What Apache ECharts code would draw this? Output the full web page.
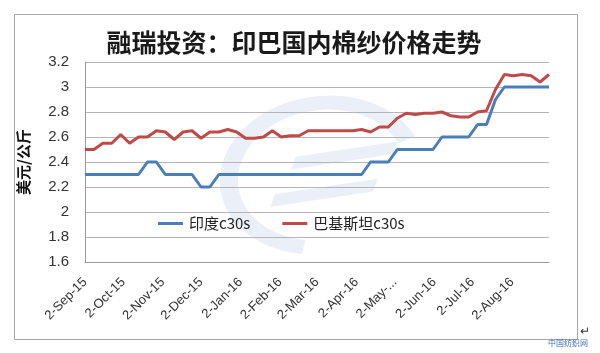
<!DOCTYPE html>
<html>
<head>
<meta charset="utf-8">
<title>融瑞投资：印巴国内棉纱价格走势</title>
<style>
  html, body { margin: 0; padding: 0; background: #fff; }
  #main { width: 600px; height: 353px; }
</style>
</head>
<body>
<div id="main"></div>
<script type="text/javascript" src="https://cdn.jsdelivr.net/npm/echarts@6/dist/echarts.min.js"></script>
<script type="text/javascript">
// weekly observations
var weeks = [
  '2015-09-02','2015-09-09','2015-09-16','2015-09-23','2015-09-30',
  '2015-10-07','2015-10-14','2015-10-21','2015-10-28',
  '2015-11-04','2015-11-11','2015-11-18','2015-11-25',
  '2015-12-02','2015-12-09','2015-12-16','2015-12-23','2015-12-30',
  '2016-01-06','2016-01-13','2016-01-20','2016-01-27',
  '2016-02-03','2016-02-10','2016-02-17','2016-02-24',
  '2016-03-02','2016-03-09','2016-03-16','2016-03-23','2016-03-30',
  '2016-04-06','2016-04-13','2016-04-20','2016-04-27',
  '2016-05-04','2016-05-11','2016-05-18','2016-05-25',
  '2016-06-01','2016-06-08','2016-06-15','2016-06-22','2016-06-29',
  '2016-07-06','2016-07-13','2016-07-20','2016-07-27',
  '2016-08-03','2016-08-10','2016-08-17','2016-08-24','2016-08-31'
];
var india = [
  2.3, 2.3, 2.3, 2.3, 2.3, 2.3, 2.3, 2.4, 2.4,
  2.3, 2.3, 2.3, 2.3, 2.2, 2.2, 2.3, 2.3, 2.3,
  2.3, 2.3, 2.3, 2.3, 2.3, 2.3, 2.3, 2.3,
  2.3, 2.3, 2.3, 2.3, 2.3, 2.3, 2.4, 2.4, 2.4,
  2.5, 2.5, 2.5, 2.5, 2.5, 2.6, 2.6, 2.6, 2.6,
  2.7, 2.7, 2.9, 3.0, 3.0, 3.0, 3.0, 3.0, 3.0
];
var pakistan = [
  2.5, 2.5, 2.55, 2.55, 2.62, 2.55, 2.6, 2.6, 2.65,
  2.64, 2.58, 2.64, 2.65, 2.59, 2.64, 2.64, 2.66, 2.64,
  2.59, 2.59, 2.6, 2.65, 2.6, 2.61, 2.61, 2.65,
  2.65, 2.65, 2.65, 2.65, 2.65, 2.66, 2.64, 2.68, 2.68,
  2.75, 2.79, 2.78, 2.79, 2.79, 2.8, 2.77, 2.76, 2.76,
  2.8, 2.81, 2.98, 3.1, 3.09, 3.1, 3.09, 3.04, 3.1
];
var tickDates = [
  '2015-09-02','2015-10-02','2015-11-02','2015-12-02','2016-01-02','2016-02-02',
  '2016-03-02','2016-04-02','2016-05-02','2016-06-02','2016-07-02','2016-08-02'
];
var tickLabels = [
  '2-Sep-15','2-Oct-15','2-Nov-15','2-Dec-15','2-Jan-16','2-Feb-16',
  '2-Mar-16','2-Apr-16','2-May-...','2-Jun-16','2-Jul-16','2-Aug-16'
];

// x is counted in days from the first observation
function dayOf(s) {
  var p = s.split('-');
  var t = Date.UTC(+p[0], +p[1] - 1, +p[2]);
  var p0 = weeks[0].split('-');
  var t0 = Date.UTC(+p0[0], +p0[1] - 1, +p0[2]);
  return Math.round((t - t0) / 86400000);
}
var tickDays = tickDates.map(dayOf);
var indiaData = weeks.map(function (d, i) { return [dayOf(d), india[i]]; });
var pakData = weeks.map(function (d, i) { return [dayOf(d), pakistan[i]]; });

var myChart = echarts.init(document.getElementById('main'));
var option = {
  animation: false,
  title: {
    text: '融瑞投资：印巴国内棉纱价格走势',
    left: 289,
    top: 25,
    textAlign: 'center',
    textStyle: { fontFamily: 'Noto Sans CJK SC', fontSize: 25, fontWeight: 'bold', color: '#1a1a1a' }
  },
  legend: {
    left: 153,
    top: 211,
    icon: 'rect',
    itemWidth: 25,
    itemHeight: 3,
    itemGap: 32,
    textStyle: { fontFamily: 'Noto Sans CJK SC', fontSize: 15, color: '#222', padding: [0, 0, 0, 1] },
    data: ['印度c30s', '巴基斯坦c30s']
  },
  grid: { left: 85, right: 51, top: 62, bottom: 91 },
  xAxis: {
    type: 'value',
    min: 0,
    max: dayOf(weeks[weeks.length - 1]),
    axisLine: { show: true, onZero: false, lineStyle: { color: '#9a9a9a', width: 1 } },
    axisTick: { show: false },
    splitLine: { show: false },
    axisLabel: {
      customValues: tickDays,
      rotate: 45,
      margin: 18,
      fontFamily: 'Liberation Sans',
      fontSize: 13,
      color: '#333',
      formatter: function (v) {
        var k = tickDays.indexOf(v);
        return k >= 0 ? tickLabels[k] : '';
      }
    }
  },
  yAxis: {
    type: 'value',
    min: 1.6,
    max: 3.2,
    interval: 0.2,
    name: '美元/公斤',
    nameLocation: 'middle',
    nameGap: 54,
    nameTextStyle: { fontFamily: 'Noto Sans CJK SC', fontSize: 15, fontWeight: 'bold', color: '#111' },
    axisLine: { show: true, lineStyle: { color: '#9a9a9a' } },
    axisTick: { show: false },
    splitLine: { lineStyle: { color: '#b5b5b5', width: 1 } },
    axisLabel: {
      margin: 16,
      fontFamily: 'Liberation Sans',
      fontSize: 15,
      color: '#333',
      formatter: function (v) { return String(Math.round(v * 10) / 10); }
    }
  },
  graphic: [
    {
      type: 'rect',
      shape: { x: 14.5, y: 14.5, width: 563, height: 325 },
      style: { fill: 'none', stroke: '#a6a6a6', lineWidth: 1 },
      silent: true
    },
    // faint watermark logo behind the plot
    {
      type: 'group',
      z: -1,
      silent: true,
      x: 322, y: 175,
      scaleX: 1.3,
      rotation: 0.15,
      children: [
        {
          type: 'arc',
          shape: { cx: 0, cy: 0, r: 72, startAngle: Math.PI * 0.6, endAngle: Math.PI * 1.9, clockwise: true },
          style: { fill: 'none', stroke: '#ebf0f8', lineWidth: 14 }
        },
        {
          type: 'polygon',
          shape: { points: [[-18, -22], [62, -22], [57, -10], [-23, -10]] },
          style: { fill: '#ebf0f8' }
        },
        {
          type: 'polygon',
          shape: { points: [[-38, 12], [42, 12], [37, 24], [-43, 24]] },
          style: { fill: '#ebf0f8' }
        }
      ]
    },
    {
      type: 'text',
      left: 580, top: 326,
      style: { text: '↵', fontSize: 12, fill: '#333' }
    },
    {
      type: 'text',
      left: 548, top: 339,
      style: { text: '中国纺织网', fontFamily: 'Noto Sans CJK SC', fontSize: 8, fill: '#3f6fb5' }
    }
  ],
  series: [
    {
      name: '印度c30s',
      type: 'line',
      data: indiaData,
      symbol: 'none',
      lineStyle: { color: '#4a7ebb', width: 3 },
      itemStyle: { color: '#4a7ebb' }
    },
    {
      name: '巴基斯坦c30s',
      type: 'line',
      data: pakData,
      symbol: 'none',
      lineStyle: { color: '#be4b48', width: 3 },
      itemStyle: { color: '#be4b48' }
    }
  ]
};
myChart.setOption(option);
</script>
</body>
</html>
